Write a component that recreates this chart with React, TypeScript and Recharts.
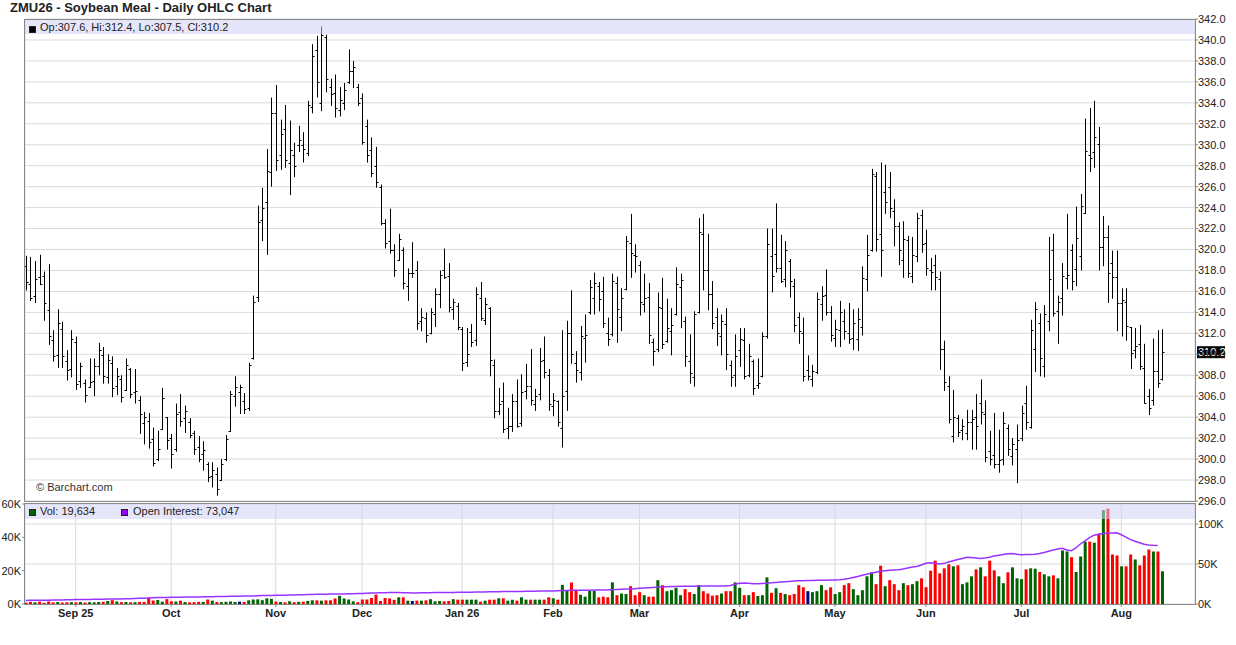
import React from 'react';
import { ComposedChart, Bar, Line, XAxis, YAxis, CartesianGrid, Cell, ReferenceLine } from 'recharts';

// daily bars, Aug 15 2025 .. Aug 14 2026 (index = trading day)
const highs = [
  319.4, 319.3, 318.9, 319.5, 317.9, 318.6, 312.3, 314.3, 313.1, 310.4,
  312.3, 311.7, 309.2, 307.6, 309.6, 309.6, 311.1, 310.7, 310.0, 309.8,
  308.7, 308.0, 309.6, 308.7, 308.6, 306.0, 304.5, 304.4, 303.0, 302.7,
  306.8, 304.0, 302.4, 305.3, 306.2, 305.1, 303.9, 302.7, 302.2, 301.7,
  299.7, 299.7, 299.2, 300.0, 302.3, 306.5, 307.9, 307.1, 306.3, 309.2,
  315.6, 324.2, 325.9, 329.6, 334.5, 335.7, 332.4, 333.8, 332.3, 330.2,
  331.8, 331.2, 334.2, 339.6, 340.4, 341.3, 340.5, 336.3, 336.7, 335.5,
  335.9, 339.1, 338.0, 335.8, 334.9, 332.4, 330.7, 329.8, 326.2, 322.9,
  323.9, 320.5, 321.5, 320.2, 318.2, 320.7, 318.9, 314.4, 314.0, 314.4,
  316.3, 318.0, 320.1, 318.7, 315.3, 314.9, 312.6, 312.5, 312.9, 316.4,
  316.9, 315.4, 314.5, 309.5, 306.8, 307.3, 304.9, 306.2, 307.6, 308.1,
  309.1, 310.5, 306.7, 310.6, 311.7, 308.6, 306.3, 305.6, 312.3, 313.2,
  316.1, 310.3, 312.7, 313.8, 317.1, 317.8, 316.9, 317.4, 313.5, 317.7,
  317.4, 316.3, 321.3, 323.4, 320.5, 318.9, 317.7, 316.8, 311.5, 315.9,
  317.3, 315.3, 314.4, 318.3, 317.7, 313.6, 311.9, 314.1, 323.0, 323.4,
  321.5, 317.0, 314.4, 313.8, 314.4, 309.4, 311.9, 312.5, 312.5, 311.0,
  309.5, 309.6, 312.1, 322.0, 322.0, 324.4, 321.4, 320.8, 319.1, 317.2,
  314.0, 313.5, 309.9, 309.0, 315.9, 316.5, 318.1, 314.6, 313.3, 315.1,
  314.3, 314.9, 314.3, 314.4, 318.4, 321.4, 327.7, 327.4, 328.3, 328.1,
  327.4, 324.8, 322.6, 322.7, 321.3, 321.2, 323.5, 323.8, 321.9, 319.2,
  319.5, 317.9, 311.3, 307.9, 306.6, 304.2, 303.8, 304.7, 304.7, 306.2,
  307.6, 305.6, 302.7, 304.4, 302.8, 304.5, 303.3, 302.0, 303.3, 305.1,
  307.0, 313.3, 315.0, 313.9, 314.7, 321.2, 321.5, 315.6, 318.7, 323.4,
  320.5, 324.1, 325.3, 332.5, 333.5, 334.2, 331.7, 323.2, 322.3, 319.9,
  319.9, 316.3, 316.3, 312.6, 312.5, 312.8, 311.0, 306.7, 311.5, 312.3,
  312.4,
];

const lows = [
  316.1, 315.1, 314.9, 316.6, 313.2, 310.9, 309.3, 308.7, 308.7, 307.5,
  307.8, 306.6, 306.8, 305.4, 306.8, 306.0, 308.0, 307.2, 307.2, 305.9,
  306.1, 305.4, 306.5, 305.8, 305.3, 302.4, 301.4, 301.0, 299.3, 299.8,
  302.8, 300.9, 299.1, 300.7, 303.1, 302.5, 302.0, 300.4, 299.7, 298.9,
  297.8, 297.3, 296.5, 297.9, 299.8, 302.6, 305.0, 304.3, 304.3, 304.6,
  309.5, 315.0, 320.8, 319.5, 326.0, 327.5, 327.6, 327.8, 325.2, 326.9,
  329.3, 328.3, 328.9, 333.0, 334.5, 333.2, 335.0, 333.7, 332.6, 332.7,
  333.3, 335.8, 335.4, 333.7, 330.0, 328.3, 326.9, 325.9, 322.3, 320.1,
  319.6, 317.4, 318.9, 316.2, 315.1, 317.3, 312.3, 312.2, 311.1, 311.9,
  312.6, 314.4, 317.2, 314.0, 313.3, 312.3, 308.4, 308.8, 310.7, 310.8,
  313.2, 312.8, 307.9, 303.9, 304.2, 302.5, 301.9, 302.6, 303.0, 303.1,
  305.7, 305.1, 304.6, 305.6, 307.7, 304.6, 304.1, 303.1, 301.1, 304.6,
  309.1, 307.3, 307.5, 309.2, 313.8, 313.8, 314.1, 312.5, 310.8, 311.7,
  311.1, 312.2, 316.1, 317.3, 317.8, 313.7, 314.0, 311.0, 308.9, 310.2,
  310.5, 311.1, 309.9, 313.7, 312.5, 308.8, 307.2, 306.9, 313.9, 316.1,
  314.2, 312.4, 310.8, 309.9, 308.5, 306.9, 306.9, 308.8, 307.6, 307.8,
  306.1, 306.7, 307.8, 311.5, 315.9, 317.8, 316.8, 316.4, 315.4, 312.1,
  311.0, 307.4, 307.5, 306.9, 308.1, 313.2, 313.7, 311.2, 310.7, 310.7,
  311.4, 311.0, 310.4, 310.3, 311.8, 316.0, 319.8, 319.8, 317.4, 323.4,
  323.0, 320.3, 318.5, 317.3, 317.3, 316.8, 318.8, 319.7, 317.5, 316.1,
  316.1, 308.5, 306.5, 303.4, 301.6, 302.1, 301.8, 301.8, 300.9, 300.9,
  303.3, 299.7, 299.4, 299.1, 298.7, 299.4, 300.3, 299.4, 297.7, 301.7,
  302.8, 302.9, 308.3, 307.9, 307.8, 312.2, 313.6, 311.0, 313.7, 316.2,
  316.1, 316.5, 318.0, 323.4, 327.4, 327.8, 318.0, 318.4, 314.9, 315.3,
  312.2, 311.7, 311.3, 308.6, 309.6, 308.5, 305.3, 304.2, 305.1, 306.8,
  307.5,
];

const opens = [
  318.4, 316.7, 315.6, 317.4, 317.5, 314.2, 311.4, 309.9, 312.4, 309.4,
  308.6, 311.2, 307.5, 307.3, 306.9, 307.5, 308.9, 309.9, 307.8, 309.2,
  307.0, 307.6, 306.6, 308.6, 306.4, 305.6, 303.4, 303.6, 301.9, 300.0,
  302.9, 304.0, 302.0, 301.0, 304.5, 303.9, 303.5, 302.5, 301.2, 300.5,
  299.5, 298.4, 298.6, 298.0, 300.0, 302.7, 306.0, 306.4, 305.5, 304.9,
  309.6, 315.5, 322.8, 324.5, 327.4, 333.0, 329.0, 331.5, 328.3, 329.0,
  330.0, 330.0, 329.2, 333.6, 339.0, 334.0, 340.3, 335.5, 334.9, 333.3,
  334.0, 336.0, 337.0, 335.5, 334.5, 331.8, 329.5, 328.0, 326.0, 322.5,
  320.8, 320.0, 319.0, 320.0, 316.5, 317.8, 318.0, 313.2, 313.5, 312.0,
  313.8, 315.8, 318.0, 317.5, 314.3, 314.6, 312.4, 309.3, 312.1, 311.4,
  315.4, 313.3, 314.4, 309.0, 304.6, 305.5, 303.0, 303.2, 305.5, 303.4,
  306.5, 307.0, 305.3, 306.2, 309.5, 308.0, 305.1, 305.5, 303.0, 306.5,
  312.0, 309.2, 308.3, 311.6, 314.0, 315.4, 316.5, 316.0, 312.0, 311.9,
  316.8, 313.6, 316.2, 320.6, 319.5, 318.5, 314.8, 315.5, 311.2, 310.5,
  314.4, 311.3, 312.2, 313.8, 316.4, 313.2, 309.4, 307.8, 314.0, 321.5,
  318.0, 315.8, 313.6, 311.7, 312.9, 309.0, 308.0, 310.4, 311.4, 308.0,
  309.4, 307.1, 307.9, 311.7, 319.4, 319.6, 318.2, 317.2, 318.9, 316.5,
  313.6, 312.0, 308.5, 307.6, 308.3, 314.8, 315.7, 314.0, 311.6, 312.3,
  313.2, 312.0, 311.6, 311.5, 312.6, 317.2, 320.0, 327.0, 321.5, 325.5,
  326.0, 323.7, 322.2, 319.0, 320.9, 317.5, 319.4, 323.3, 320.6, 318.0,
  318.5, 317.2, 310.5, 307.0, 302.2, 303.9, 302.8, 302.5, 303.5, 304.0,
  305.4, 304.3, 300.8, 300.4, 299.5, 300.0, 303.0, 300.3, 301.0, 302.0,
  305.4, 303.1, 310.5, 313.0, 308.9, 313.2, 320.0, 314.1, 315.4, 317.3,
  320.0, 318.1, 319.4, 323.5, 329.0, 329.3, 330.1, 320.2, 321.2, 318.7,
  317.4, 314.9, 315.0, 312.6, 310.4, 311.0, 308.7, 306.0, 305.6, 308.4,
  307.6,
];

const closes = [
  316.9, 315.4, 317.2, 316.7, 314.9, 311.7, 309.8, 313.0, 309.8, 308.5,
  311.5, 307.2, 308.9, 306.1, 307.4, 308.9, 310.4, 307.9, 309.5, 306.8,
  307.9, 305.9, 309.0, 306.2, 306.5, 304.3, 304.0, 301.6, 299.6, 301.0,
  305.8, 301.8, 300.5, 304.3, 303.6, 304.6, 302.3, 301.0, 300.0, 300.9,
  298.3, 299.0, 297.1, 299.5, 301.9, 306.2, 306.9, 306.9, 304.8, 309.0,
  315.0, 322.6, 324.0, 327.5, 333.0, 328.5, 331.0, 328.5, 329.5, 328.0,
  330.5, 329.6, 333.8, 338.5, 336.0, 340.5, 336.3, 334.8, 333.5, 334.3,
  335.2, 337.0, 337.4, 334.0, 330.3, 329.0, 327.3, 326.4, 322.5, 320.6,
  320.0, 318.0, 321.0, 316.8, 317.8, 317.8, 313.0, 313.6, 311.8, 314.0,
  315.8, 317.6, 317.4, 314.5, 315.0, 312.6, 309.2, 310.0, 311.2, 315.8,
  313.5, 314.8, 309.5, 304.6, 305.3, 302.9, 303.2, 305.5, 303.2, 306.4,
  307.0, 305.6, 306.0, 309.4, 308.3, 305.3, 305.6, 303.5, 306.0, 312.0,
  310.0, 308.5, 311.7, 311.8, 316.4, 316.8, 315.3, 313.0, 311.5, 317.0,
  314.3, 315.4, 320.8, 319.7, 319.4, 315.0, 315.4, 311.8, 310.3, 314.5,
  311.0, 312.5, 312.8, 316.7, 317.1, 309.8, 308.2, 313.8, 321.7, 318.0,
  315.8, 313.0, 312.0, 313.2, 310.0, 307.8, 309.8, 311.5, 307.9, 309.8,
  306.8, 307.3, 311.7, 320.5, 317.5, 318.2, 317.0, 320.0, 317.0, 312.8,
  312.2, 307.9, 307.9, 308.4, 315.3, 315.6, 314.0, 311.8, 312.4, 314.0,
  312.2, 311.5, 313.0, 313.4, 317.3, 319.5, 327.2, 321.0, 320.0, 324.5,
  324.0, 322.2, 320.0, 321.0, 317.8, 319.5, 323.0, 320.5, 318.2, 317.9,
  317.4, 310.5, 307.4, 303.8, 304.0, 302.6, 303.2, 303.5, 303.8, 303.2,
  304.5, 300.2, 300.0, 299.5, 299.9, 303.4, 301.0, 301.4, 301.8, 304.4,
  303.5, 312.3, 314.3, 309.6, 313.8, 317.2, 313.9, 315.0, 317.5, 317.6,
  317.0, 321.1, 324.2, 329.4, 328.7, 330.7, 320.2, 321.2, 317.8, 317.4,
  314.9, 315.2, 312.7, 310.1, 310.8, 308.9, 305.4, 304.9, 308.4, 307.3,
  310.2,
];

// volume, thousands of contracts
const volumes = [
  0.8, 1.3, 1.0, 1.4, 0.7, 1.5, 1.0, 1.2, 0.9, 1.0,
  1.1, 1.0, 1.2, 0.9, 1.1, 1.0, 1.2, 1.3, 1.8, 2.3,
  1.5, 1.1, 1.2, 1.0, 1.1, 1.3, 1.2, 3.6, 2.1, 2.4,
  1.4, 2.9, 1.6, 1.5, 2.0, 1.2, 1.0, 1.1, 1.3, 1.2,
  2.7, 2.0, 1.2, 1.1, 1.3, 1.5, 1.2, 1.4, 1.2, 2.2,
  2.7, 2.8, 2.3, 3.4, 3.1, 1.4, 1.2, 1.0, 1.6, 1.1,
  1.3, 1.4, 1.8, 2.2, 2.2, 2.0, 2.2, 2.2, 3.3, 4.9,
  3.3, 2.7, 1.6, 1.1, 2.7, 2.7, 3.6, 5.6, 1.8, 3.6,
  3.3, 2.5, 4.0, 4.0, 2.0, 1.8, 2.0, 2.0, 2.2, 2.9,
  1.6, 1.8, 1.6, 1.8, 2.9, 2.6, 2.6, 2.6, 2.6, 2.6,
  1.4, 2.0, 2.6, 2.6, 3.4, 3.4, 2.0, 2.6, 2.0, 4.0,
  2.6, 2.6, 2.6, 2.6, 2.6, 4.0, 3.4, 2.6, 11.5, 7.9,
  12.9, 8.5, 5.5, 4.4, 7.9, 7.9, 4.0, 4.4, 4.0, 13.0,
  5.3, 6.3, 6.0, 10.7, 5.3, 7.1, 5.3, 4.4, 4.4, 14.3,
  11.3, 7.7, 8.3, 9.7, 5.3, 8.9, 7.1, 6.0, 11.3, 7.7,
  6.3, 5.0, 5.3, 6.3, 7.7, 7.7, 13.0, 9.7, 5.3, 5.3,
  7.1, 4.8, 5.3, 16.0, 6.7, 9.5, 6.7, 6.0, 5.3, 6.0,
  11.3, 10.0, 7.7, 7.1, 7.7, 11.3, 8.3, 10.0, 6.0, 7.1,
  11.3, 12.5, 8.9, 5.3, 8.3, 16.6, 19.0, 11.9, 23.0, 10.7,
  14.3, 11.9, 8.3, 12.5, 11.3, 11.9, 13.7, 15.4, 10.1, 20.0,
  26.0, 18.4, 21.4, 23.8, 22.6, 23.2, 11.9, 13.0, 16.6, 20.8,
  22.0, 16.6, 26.0, 20.2, 16.6, 12.5, 19.0, 22.0, 15.4, 14.9,
  20.8, 21.4, 21.2, 19.2, 17.8, 16.6, 17.2, 15.4, 32.1, 31.5,
  28.1, 19.2, 28.5, 37.4, 37.4, 36.8, 42.2, 56.4, 57.2, 29.7,
  29.1, 22.6, 22.6, 29.7, 26.7, 23.2, 29.1, 32.7, 31.5, 31.5,
  19.634,
];

// open interest, thousands (no value yet for the last session)
const openInterest = [
  4.5, 4.6, 4.6, 4.7, 4.8, 4.8, 4.9, 5.0, 5.1, 5.2,
  5.3, 5.5, 5.6, 5.6, 5.7, 5.8, 5.9, 6.0, 6.1, 6.2,
  6.3, 6.4, 6.5, 6.7, 6.9, 7.1, 7.3, 7.6, 7.8, 8.0,
  8.1, 8.2, 8.3, 8.4, 8.5, 8.6, 8.7, 8.8, 8.9, 9.0,
  9.1, 9.2, 9.3, 9.4, 9.5, 9.6, 9.7, 9.8, 9.9, 10.0,
  10.1, 10.3, 10.5, 10.6, 10.7, 10.8, 10.9, 11.0, 11.1, 11.3,
  11.5, 11.7, 11.8, 12.0, 12.1, 12.2, 12.3, 12.4, 12.4, 12.5,
  12.6, 12.7, 12.8, 13.0, 13.2, 13.4, 13.6, 13.8, 14.0, 14.2,
  14.4, 14.5, 14.4, 14.2, 14.0, 13.9, 13.9, 14.0, 14.1, 14.2,
  14.3, 14.4, 14.4, 14.5, 14.5, 14.6, 14.6, 14.7, 14.8, 14.9,
  15.0, 15.1, 15.2, 15.3, 15.4, 15.5, 15.5, 15.6, 15.6, 15.7,
  15.8, 15.9, 16.0, 16.1, 16.2, 16.3, 16.4, 16.6, 16.8, 17.0,
  17.1, 17.2, 17.2, 17.3, 17.3, 17.4, 17.4, 17.5, 17.6, 17.8,
  18.0, 18.3, 18.6, 18.9, 19.2, 19.6, 19.9, 20.3, 20.7, 21.1,
  21.5, 21.7, 21.9, 22.0, 22.1, 22.2, 22.3, 22.3, 22.4, 22.5,
  22.5, 22.5, 22.4, 22.4, 22.6, 23.2, 24.8, 26.0, 26.2, 25.8,
  25.4, 25.3, 25.6, 26.0, 26.5, 27.0, 27.4, 27.8, 28.2, 28.6,
  29.0, 29.2, 29.4, 29.5, 29.6, 29.7, 29.8, 29.9, 30.0, 30.4,
  31.0, 32.0, 33.2, 34.5, 36.0, 37.2, 38.5, 39.8, 41.0, 41.7,
  42.3, 42.5, 42.8, 43.8, 45.0, 46.2, 47.0, 48.8, 51.0, 51.7,
  51.0, 50.0, 50.8, 52.5, 54.0, 55.5, 57.0, 58.3, 58.0, 57.5,
  57.0, 57.5, 58.5, 60.0, 61.0, 62.0, 62.8, 63.0, 62.3, 61.7,
  61.8, 62.0, 62.3, 63.2, 64.5, 66.0, 67.5, 68.8, 69.6, 67.5,
  66.7, 70.0, 75.0, 79.0, 83.0, 86.0, 87.2, 88.0, 88.5, 88.8,
  89.0, 86.5, 83.5, 80.5, 78.5, 76.5, 74.6, 73.8, 73.3, 73.047,
  null,
];

const monthTicks = [11, 32, 55, 74, 96, 116, 135, 157, 178, 198, 219, 241];
const monthLabels = ['Sep 25', 'Oct', 'Nov', 'Dec', 'Jan 26', 'Feb', 'Mar', 'Apr', 'May', 'Jun', 'Jul', 'Aug'];
const priceTicks = [
  296, 298, 300, 302, 304, 306, 308, 310, 312, 314, 316, 318,
  320, 322, 324, 326, 328, 330, 332, 334, 336, 338, 340, 342,
];
const volumeTicks = [0, 20000, 40000, 60000];
const oiTicks = [0, 50000, 100000];

const X_DOMAIN: [number, number] = [-0.15, 257.2];
const FONT = '"Liberation Sans", Arial, Helvetica, sans-serif';
const UP = '#006400';
const DOWN = '#ff0000';
const FLAT = '#000080';

const data = highs.map((h, i) => ({
  i,
  o: opens[i],
  h,
  l: lows[i],
  c: closes[i],
  range: [lows[i], h],
  vol: volumes[i] * 1000,
  oi: openInterest[i] == null ? null : (openInterest[i] as number) * 1000,
}));

const last = data.length - 1;
const lastOi = openInterest.filter((v) => v != null).pop() as number;

function volColor(i: number) {
  if (i === 0) return closes[0] >= opens[0] ? UP : DOWN;
  const d = closes[i] - closes[i - 1];
  if (Math.abs(d) < 1e-9) return FLAT;
  return d > 0 ? UP : DOWN;
}

const OhlcShape = (props: any) => {
  const { x, y, width, height, payload } = props;
  if (x == null || y == null || !payload) return null;
  const cx = Math.round(x + width / 2) + 0.5;
  const top = Math.min(y, y + height);
  const bottom = Math.max(y, y + height);
  const span = payload.h - payload.l || 1;
  const py = (v: number) => top + ((payload.h - v) / span) * (bottom - top);
  const yo = Math.round(py(payload.o)) + 0.5;
  const yc = Math.round(py(payload.c)) + 0.5;
  return (
    <g>
      <line x1={cx} x2={cx} y1={top} y2={bottom} stroke="#000" strokeWidth={1} />
      <line x1={cx - 2} x2={cx} y1={yo} y2={yo} stroke="#000" strokeWidth={1} />
      <line x1={cx} x2={cx + 2} y1={yc} y2={yc} stroke="#000" strokeWidth={1} />
    </g>
  );
};

const LastPriceLabel = (props: any) => {
  const vb = props.viewBox;
  if (!vb) return null;
  const x = vb.x + vb.width + 2;
  const y = vb.y;
  return (
    <g>
      <rect x={x} y={y - 6} width={28} height={12} fill="#000" />
      <text x={x + 1} y={y + 4} fill="#fff" fontSize={11} fontFamily={FONT}>
        {closes[last].toFixed(1)}
      </text>
    </g>
  );
};

const kFormat = (v: number) => `${Math.round(v / 1000)}K`;
const monthFormat = (v: number) => {
  const k = monthTicks.indexOf(v);
  return k >= 0 ? monthLabels[k] : '';
};

export default function App() {
  const strip = 'rgba(210,210,245,0.55)';
  const legendText: React.CSSProperties = {
    position: 'absolute',
    fontSize: 11,
    color: '#222',
    lineHeight: '13px',
    whiteSpace: 'nowrap',
  };
  const square = (bg: string): React.CSSProperties => ({
    position: 'absolute',
    width: 7,
    height: 7,
    background: bg,
    border: '1px solid #222',
    boxSizing: 'border-box',
  });

  return (
    <div
      style={{
        position: 'absolute',
        left: 0,
        top: 0,
        width: 1236,
        height: 645,
        background: '#fff',
        fontFamily: FONT,
        overflow: 'hidden',
      }}
    >
      {/* Price panel */}
      <div style={{ position: 'absolute', left: 0, top: 0 }}>
        <ComposedChart width={1236} height={645} data={data} margin={{ top: 19, right: 0, bottom: 143, left: 25 }}>
          <CartesianGrid stroke="#dadada" />
          <XAxis
            type="number"
            dataKey="i"
            domain={X_DOMAIN}
            ticks={monthTicks}
            allowDataOverflow
            height={1}
            tick={false}
            tickLine={false}
            axisLine={false}
          />
          <YAxis
            orientation="right"
            domain={[296, 342]}
            ticks={priceTicks}
            interval={0}
            width={41}
            tickSize={3}
            tickMargin={0}
            axisLine={false}
            tickLine={{ stroke: '#888' }}
            tick={{ fontSize: 11, fill: '#222' }}
            tickFormatter={(v: number) => v.toFixed(1)}
            allowDataOverflow
          />
          <Bar dataKey="range" barSize={3} shape={OhlcShape} isAnimationActive={false} />
          <ReferenceLine y={closes[last]} stroke="transparent" label={<LastPriceLabel />} />
        </ComposedChart>
      </div>

      {/* Volume / open interest panel */}
      <div style={{ position: 'absolute', left: 0, top: 0 }}>
        <ComposedChart width={1236} height={645} data={data} margin={{ top: 504, right: 0, bottom: 21, left: 0 }}>
          <CartesianGrid stroke="#dadada" />
          <XAxis
            type="number"
            dataKey="i"
            domain={X_DOMAIN}
            ticks={monthTicks}
            interval={0}
            allowDataOverflow
            height={20}
            tickSize={3}
            tickLine={{ stroke: '#888' }}
            axisLine={false}
            tick={{ fontSize: 11, fontWeight: 'bold', fill: '#222' }}
            tickFormatter={monthFormat}
          />
          <YAxis
            yAxisId="vol"
            orientation="left"
            width={25}
            domain={[0, 60000]}
            ticks={volumeTicks}
            interval={0}
            tickSize={3}
            tickMargin={1}
            axisLine={false}
            tickLine={{ stroke: '#888' }}
            tick={{ fontSize: 11, fill: '#222' }}
            tickFormatter={kFormat}
            allowDataOverflow
          />
          <YAxis
            orientation="right"
            width={41}
            domain={[0, 125000]}
            ticks={oiTicks}
            interval={0}
            tickSize={3}
            tickMargin={0}
            axisLine={false}
            tickLine={{ stroke: '#888' }}
            tick={{ fontSize: 11, fill: '#222' }}
            tickFormatter={kFormat}
            allowDataOverflow
          />
          <Bar yAxisId="vol" dataKey="vol" barSize={3} isAnimationActive={false}>
            {data.map((d) => (
              <Cell key={d.i} fill={volColor(d.i)} />
            ))}
          </Bar>
          <Line dataKey="oi" stroke="#9933ff" strokeWidth={1.5} dot={false} isAnimationActive={false} />
        </ComposedChart>
      </div>

      {/* frames */}
      <div style={{ position: 'absolute', left: 24, top: 19, width: 1172, height: 483, border: '1px solid #888', boxSizing: 'border-box' }} />
      <div style={{ position: 'absolute', left: 24, top: 503, width: 1172, height: 102, border: '1px solid #888', boxSizing: 'border-box' }} />

      {/* legend strips */}
      <div style={{ position: 'absolute', left: 25, top: 20, width: 1170, height: 14, background: strip }} />
      <div style={{ position: 'absolute', left: 25, top: 504, width: 1170, height: 15, background: strip }} />

      <div style={{ ...square('#000'), left: 29, top: 26 }} />
      <div style={{ ...legendText, left: 40, top: 21 }}>
        {`Op:${opens[last].toFixed(1)}, Hi:${highs[last].toFixed(1)}, Lo:${lows[last].toFixed(1)}, Cl:${closes[last].toFixed(1)}`}
      </div>

      <div style={{ ...square(UP), left: 29, top: 509 }} />
      <div style={{ ...legendText, left: 40, top: 505 }}>
        {`Vol: ${Math.round(volumes[last] * 1000).toLocaleString('en-US')}`}
      </div>
      <div style={{ ...square('#9900ff'), left: 121, top: 509 }} />
      <div style={{ ...legendText, left: 133, top: 505 }}>
        {`Open Interest: ${Math.round(lastOi * 1000).toLocaleString('en-US')}`}
      </div>

      <div style={{ ...legendText, left: 36, top: 481, color: '#333' }}>© Barchart.com</div>

      <div
        style={{
          position: 'absolute',
          left: 10,
          top: 0,
          fontSize: 13,
          fontWeight: 'bold',
          color: '#222',
          whiteSpace: 'nowrap',
        }}
      >
        ZMU26 - Soybean Meal - Daily OHLC Chart
      </div>
    </div>
  );
}
